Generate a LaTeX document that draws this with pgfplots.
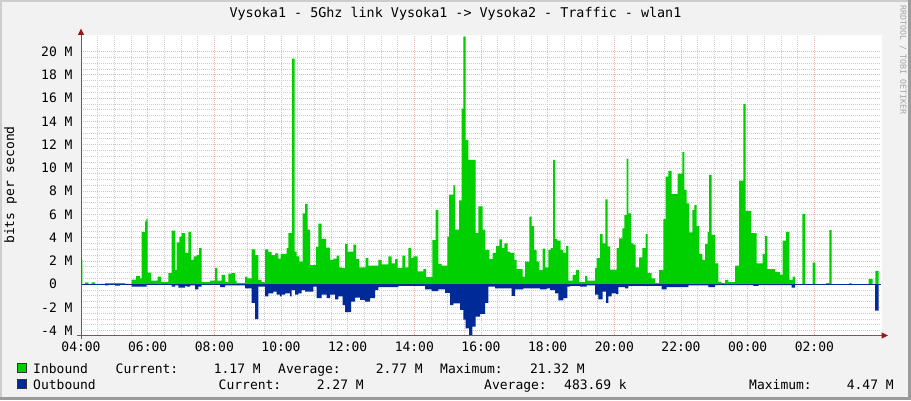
\documentclass[border=0pt]{standalone}
\usepackage{pgfplots}
\pgfplotsset{compat=1.18}
\usepackage{fontspec}
\setmainfont{DejaVu Sans Mono}

\definecolor{incol}{RGB}{0,207,0}
\definecolor{outcol}{RGB}{0,42,151}
\definecolor{bgcol}{RGB}{242,242,242}
\definecolor{shadea}{RGB}{205,205,205}
\definecolor{shadeb}{RGB}{155,155,155}
\definecolor{axiscol}{RGB}{110,90,90}
\definecolor{arrowcol}{RGB}{150,25,25}
\definecolor{mgridcol}{RGB}{242,178,178}
\definecolor{gridcol}{RGB}{205,205,205}
\definecolor{wmcol}{RGB}{165,165,165}

\newcommand{\lf}{\fontsize{13}{15}\selectfont}

\begin{document}
\begin{tikzpicture}[x=1pt,y=1pt]
\useasboundingbox (0,0) rectangle (911,400);
% frame
\fill[bgcol] (0,0) rectangle (911,400);
\fill[shadea] (0,0) rectangle (2,400);
\fill[shadea] (0,398) rectangle (911,400);
\fill[shadeb] (908,0) rectangle (911,400);
\fill[shadeb] (0,0) rectangle (911,3);
\fill[white] (81,65) rectangle (882,365);

\begin{axis}[
    at={(81pt,65pt)}, anchor=south west,
    scale only axis, width=800pt, height=300pt,
    xmin=0, xmax=24, ymin=-4.37, ymax=21.43,
    axis line style={draw=none},
    tick style={draw=none},
    xtick={0,2,...,22},
    xticklabels={04:00,06:00,08:00,10:00,12:00,14:00,16:00,18:00,20:00,22:00,00:00,02:00},
    ytick={-4,-2,...,20},
    yticklabels={{-4 M},{-2 M},{0\hphantom{\ M}},{2 M},{4 M},{6 M},{8 M},{10 M},{12 M},{14 M},{16 M},{18 M},{20 M}},
    minor x tick num=3, minor y tick num=3,
    grid=both,
    major grid style={mgridcol, line width=0.8pt, dash pattern=on 1pt off 1pt},
    minor grid style={gridcol, line width=0.8pt, dash pattern=on 1pt off 1pt},
    xticklabel style={font=\lf, anchor=north, inner sep=0pt, yshift=-6.5pt},
    yticklabel style={font=\lf, anchor=east, inner sep=0pt, xshift=-8.3pt},
]
% Inbound (bits/s, in M)
\addplot[const plot mark left, fill=incol, draw=none] coordinates {
(0.00,2.1) (0.04,0) (0.12,0.15) (0.22,0.02) (0.32,0.15) (0.42,0.03) (0.72,0.1) (1.32,0.03)
(1.52,0.4) (1.65,0.7) (1.77,0.5) (1.82,4.5) (1.92,5.4) (1.96,5.6) (2.00,1.0) (2.10,0.3)
(2.30,0.65) (2.40,0.2) (2.62,0.95) (2.72,4.6) (2.82,1.2) (2.87,3.6) (2.95,4.1) (3.02,4.4)
(3.12,2.7) (3.22,4.5) (3.30,2.1) (3.38,2.4) (3.47,2.5) (3.54,3.1) (3.62,0.17) (3.87,0.3)
(4.02,1.4) (4.09,0.3) (4.22,0.8) (4.32,0.17) (4.42,0.9) (4.52,0.95) (4.62,0.3) (4.67,0.1)
(4.92,0.65) (4.99,0.5) (5.12,3.0) (5.22,2.5) (5.32,0.37) (5.42,0.17) (5.52,3.0) (5.62,2.75)
(5.72,2.5) (5.82,2.65) (5.92,2.2) (5.99,2.6) (6.17,3.1) (6.22,4.4) (6.33,19.4) (6.41,2.8)
(6.47,2.4) (6.55,1.95) (6.65,6.1) (6.72,6.9) (6.80,4.7) (6.87,1.65) (7.05,3.2) (7.12,5.2)
(7.22,3.9) (7.35,3.15) (7.47,2.1) (7.57,2.2) (7.67,2.45) (7.74,1.45) (7.82,1.4) (7.92,3.45)
(8.00,2.8) (8.17,3.4) (8.25,2.15) (8.34,1.45) (8.54,2.25) (8.62,1.6) (8.92,2.1) (9.02,1.7)
(9.22,2.4) (9.32,1.8) (9.42,2.15) (9.50,1.4) (9.64,2.45) (9.72,1.45) (9.82,3.1) (9.90,2.25)
(9.97,2.4) (10.10,1.1) (10.27,1.3) (10.35,0.6) (10.54,3.8) (10.64,6.4) (10.72,1.75) (10.82,1.6)
(10.99,4.1) (11.04,7.7) (11.17,8.5) (11.22,4.7) (11.34,7.2) (11.42,15.1) (11.47,21.3) (11.54,12.4)
(11.62,10.7) (11.84,4.4) (11.92,6.7) (12.05,4.7) (12.12,2.95) (12.25,2.15) (12.35,2.7) (12.45,3.3)
(12.55,3.85) (12.63,3.1) (12.70,3.5) (12.80,2.8) (12.87,2.7) (13.00,2.1) (13.07,1.3) (13.25,0.65)
(13.32,1.95) (13.45,5.8) (13.52,5.0) (13.59,2.95) (13.67,1.95) (13.75,1.2) (13.85,3.05) (13.92,1.45)
(14.02,2.95) (14.09,3.1) (14.16,10.7) (14.22,3.9) (14.29,3.75) (14.39,2.95) (14.47,2.7) (14.55,3.3)
(14.62,0.3) (14.75,0.8) (14.85,1.2) (14.94,0.17) (15.12,0.7) (15.19,0.3) (15.42,1.4) (15.47,2.25)
(15.57,4.3) (15.65,3.5) (15.73,7.3) (15.80,3.25) (15.87,1.25) (16.07,3.1) (16.14,3.95) (16.24,4.8)
(16.30,5.95) (16.37,10.8) (16.42,6.1) (16.50,3.5) (16.57,3.4) (16.64,1.45) (16.74,2.3) (16.84,3.1)
(16.94,4.3) (17.00,0.95) (17.12,0.5) (17.22,0.1) (17.34,1.2) (17.47,5.6) (17.54,9.25) (17.62,9.75)
(17.72,7.75) (17.90,9.5) (18.04,11.35) (18.10,8.1) (18.17,6.95) (18.24,4.45) (18.34,6.4) (18.40,6.8)
(18.47,5.0) (18.54,2.6) (18.64,2.1) (18.72,3.45) (18.80,4.5) (18.84,9.4) (18.92,4.25) (19.02,1.8)
(19.12,0.2) (19.22,0.1) (19.32,0.37) (19.42,0.17) (19.62,1.6) (19.74,8.9) (19.87,15.5) (19.94,6.3)
(20.10,4.4) (20.27,1.8) (20.45,2.6) (20.52,4.15) (20.59,1.3) (20.82,1.05) (20.97,0.8) (21.05,3.75)
(21.15,4.5) (21.25,0.37) (21.35,0.65) (21.42,0.0) (21.64,6.05) (21.72,0) (21.95,1.85) (22.03,0)
(22.35,0.1) (22.45,4.65) (22.52,0) (23.05,0.1) (23.12,0) (23.63,0.45) (23.75,0) (23.83,1.15)
(23.93,1.15)
} \closedcycle;
% Outbound (drawn negative)
\addplot[const plot mark left, fill=outcol, draw=none] coordinates {
(0.00,-0.05) (0.72,-0.1) (0.82,-0.03) (1.02,-0.12) (1.17,-0.03) (1.52,-0.2) (1.97,-0.05) (2.72,-0.2)
(2.82,-0.1) (2.92,-0.3) (3.12,-0.15) (3.17,-0.2) (3.27,-0.1) (3.42,-0.45) (3.52,-0.2) (3.62,-0.05)
(4.17,-0.25) (4.32,-0.1) (4.92,-0.35) (5.12,-1.6) (5.22,-3.0) (5.32,-0.2) (5.52,-1.05) (5.62,-0.8)
(5.77,-0.65) (5.87,-0.9) (5.97,-1.05) (6.02,-0.9) (6.12,-0.8) (6.27,-1.05) (6.32,-0.5) (6.42,-0.9)
(6.52,-0.8) (6.62,-0.5) (6.72,-0.65) (6.97,-0.2) (7.07,-1.2) (7.22,-0.9) (7.37,-1.2) (7.47,-0.9)
(7.62,-1.3) (7.72,-1.05) (7.85,-1.8) (7.92,-2.4) (8.10,-1.5) (8.22,-1.15) (8.37,-1.35) (8.52,-1.5)
(8.67,-1.2) (8.82,-0.5) (8.92,-0.25) (9.52,-0.15) (10.32,-0.45) (10.52,-0.6) (10.72,-0.45) (10.92,-0.75)
(11.07,-1.8) (11.17,-1.65) (11.37,-2.2) (11.47,-3.05) (11.54,-3.8) (11.64,-4.47) (11.74,-3.65) (11.84,-2.8)
(11.97,-2.55) (12.12,-1.6) (12.22,-0.2) (12.42,-0.35) (12.92,-1.0) (13.02,-0.45) (13.27,-0.35) (13.77,-0.45)
(13.97,-0.35) (14.07,-0.5) (14.22,-0.8) (14.32,-1.4) (14.47,-1.2) (14.59,-0.2) (14.67,-0.15) (14.97,-0.2)
(15.17,-0.1) (15.42,-0.9) (15.52,-1.3) (15.65,-0.65) (15.75,-1.6) (15.82,-1.05) (15.92,-0.8) (16.05,-0.85)
(16.12,-0.25) (16.32,-0.35) (16.42,-0.15) (17.42,-0.45) (17.57,-0.25) (18.22,-0.1) (18.82,-0.25) (19.02,-0.08)
(20.17,-0.15) (20.32,-0.08) (21.32,-0.3) (21.42,-0.02) (23.82,-2.27) (23.93,-2.27)
} \closedcycle;
% zero line
\addplot[outcol, line width=1.2pt] coordinates {(0,0) (24,0)};
\end{axis}

% axes with arrows
\draw[axiscol, line width=1pt] (77,64.5) -- (883,64.5);
\draw[axiscol, line width=1pt] (81,61) -- (81,366);
\fill[arrowcol] (881.5,61.3) -- (888,64.5) -- (881.5,67.7) -- cycle;
\fill[arrowcol] (77.8,365) -- (81,371.5) -- (84.2,365) -- cycle;

% title and axis label
\node[font=\fontsize{13.4}{15}\selectfont] at (455.5,386.5) {Vysoka1 - 5Ghz link Vysoka1 -> Vysoka2 - Traffic - wlan1};
\node[font=\lf, rotate=90] at (10.5,215) {bits per second};
\node[font=\fontsize{8.3}{10}\selectfont, rotate=-90, text=wmcol] at (903,340) {RRDTOOL / TOBI OETIKER};

% legend
\filldraw[fill=incol, draw=black!80, line width=0.8pt] (17.5,27.5) rectangle (26.5,36.5);
\filldraw[fill=outcol, draw=black!80, line width=0.8pt] (17.5,11.5) rectangle (26.5,20.5);
\begin{scope}[every node/.style={font=\lf, inner sep=0pt}]
\node[anchor=base west] at (33,27) {Inbound};
\node[anchor=base west] at (115.5,27) {Current:};
\node[anchor=base east] at (261,27) {1.17 M};
\node[anchor=base west] at (278,27) {Average:};
\node[anchor=base east] at (423,27) {2.77 M};
\node[anchor=base west] at (440,27) {Maximum:};
\node[anchor=base east] at (585,27) {21.32 M};
\node[anchor=base west] at (33,11) {Outbound};
\node[anchor=base west] at (218.5,11) {Current:};
\node[anchor=base east] at (364,11) {2.27 M};
\node[anchor=base west] at (484,11) {Average:};
\node[anchor=base east] at (627,11) {483.69 k};
\node[anchor=base west] at (749,11) {Maximum:};
\node[anchor=base east] at (894,11) {4.47 M};
\end{scope}
\end{tikzpicture}
\end{document}
